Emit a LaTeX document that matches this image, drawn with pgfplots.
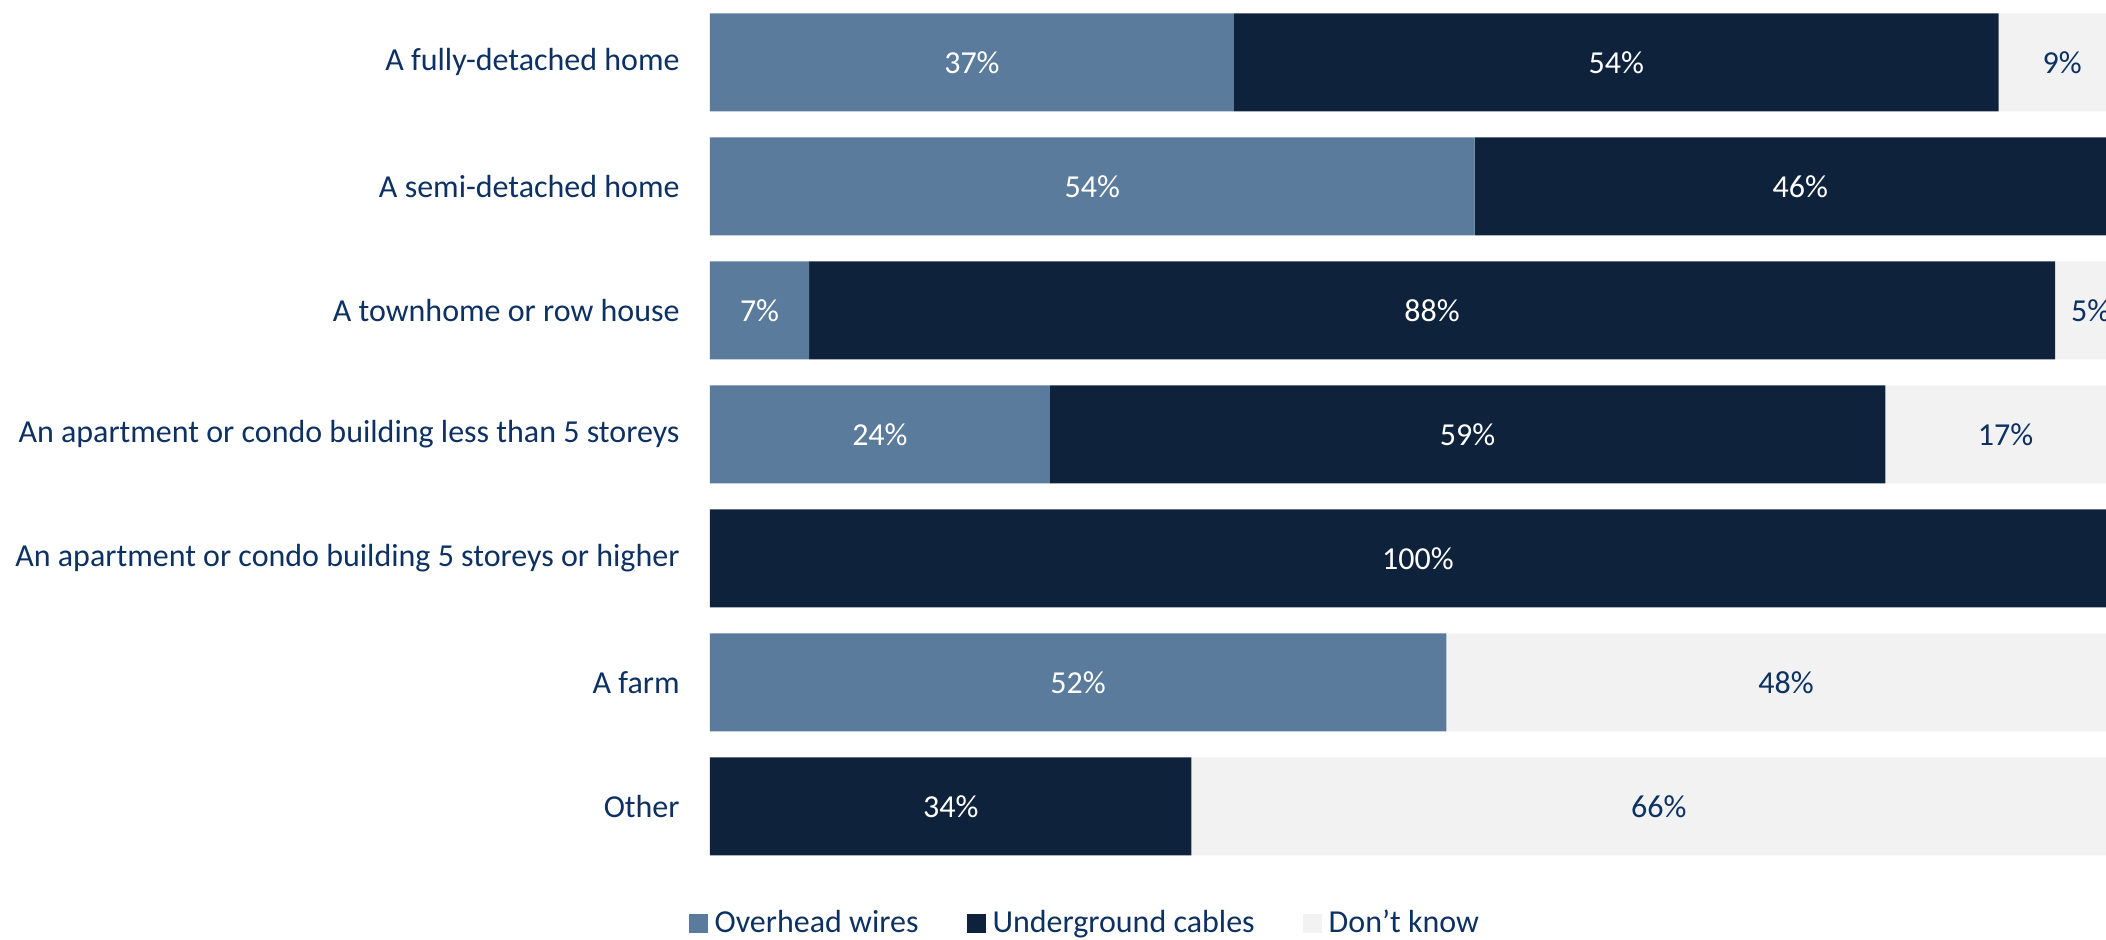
\documentclass[border=0pt]{standalone}
\usepackage{fontspec}
\setmainfont{Carlito}
\usepackage{pgfplots}
\usepackage{pgfplotstable}
\pgfplotsset{compat=1.18}
\definecolor{ow}{HTML}{5A7B9C}
\definecolor{uc}{HTML}{0E233B}
\definecolor{dk}{HTML}{F2F2F2}
\definecolor{txt}{HTML}{0D3163}
\pgfplotstableread{
y v
0 37
1 54
2 7
3 24
4 0
5 52
6 0
}\overhead
\pgfplotstableread{
y v
0 54
1 46
2 88
3 59
4 100
5 0
6 34
}\underground
\pgfplotstableread{
y v
0 9
1 0
2 5
3 17
4 0
5 48
6 66
}\dontknow
\begin{document}
\fontsize{16}{19}\selectfont
\begin{tikzpicture}
\begin{axis}[
  at={(0,0)}, anchor=south west,
  scale only axis, width=708pt, height=434pt,
  xbar stacked, bar width=49pt,
  xmin=0, xmax=100, ymin=-0.5, ymax=6.5, y dir=reverse,
  axis line style={draw=none}, tick style={draw=none},
  xtick=\empty, ytick={0,1,2,3,4,5,6},
  yticklabels={A fully-detached home, A semi-detached home, A townhome or row house, An apartment or condo building less than 5 storeys, An apartment or condo building 5 storeys or higher, A farm, Other},
  yticklabel style={font=\fontsize{16}{19}\selectfont, text=txt, inner sep=0pt, xshift=-15pt},
  clip=false,
  /pgf/number format/assume math mode=true,
  visualization depends on={\thisrow{v} \as \val},
  nodes near coords={\ifdim\val pt>0.5pt \pgfmathprintnumber[fixed,precision=0,assume math mode=true]{\val}\%\fi},
  every node near coord/.append style={anchor=center, font=\fontsize{16}{19}\selectfont},
  legend columns=3,
  legend style={at={(0.264,-0.064)}, anchor=center, draw=none, fill=none, inner sep=0pt, outer sep=0pt,
    font=\fontsize{16}{19}\selectfont, text=txt, nodes={inner sep=0pt},
    /tikz/every odd column/.append style={column sep=3.5pt},
    /tikz/every even column/.append style={column sep=24pt}},
  legend image code/.code={\fill[#1] (0pt,-4.75pt) rectangle (9.5pt,4.75pt);},
]
\addplot[fill=ow, draw=none, nodes near coords style={text=white}] table[x=v, y=y] {\overhead};
\addplot[fill=uc, draw=none, nodes near coords style={text=white}] table[x=v, y=y] {\underground};
\addplot[fill=dk, draw=none, nodes near coords style={text=txt}] table[x=v, y=y] {\dontknow};
\legend{Overhead wires, Underground cables, Don’t know}
\end{axis}
\pgfresetboundingbox
\useasboundingbox (-355pt,-35.3pt) rectangle (698pt,434.2pt);
\end{tikzpicture}
\end{document}
